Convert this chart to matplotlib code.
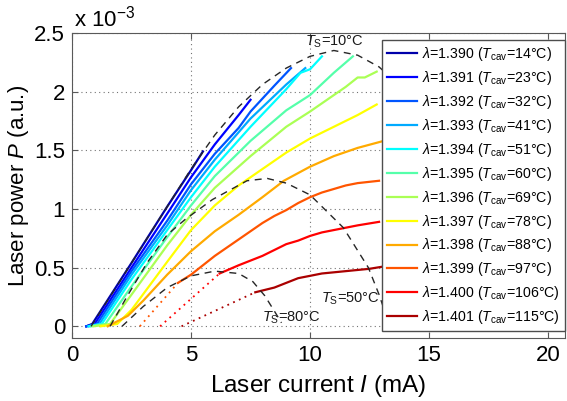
import numpy as np
import matplotlib
matplotlib.use('Agg')
import matplotlib.pyplot as plt

plt.rcParams['font.family'] = ['Liberation Sans', 'DejaVu Sans']
plt.rcParams['mathtext.fontset'] = 'custom'
plt.rcParams['mathtext.rm'] = 'Liberation Sans'
plt.rcParams['mathtext.it'] = 'Liberation Sans:italic'

# wavelengths and cavity temperatures (legend)
WAVELENGTHS = ['1.390', '1.391', '1.392', '1.393', '1.394', '1.395',
               '1.396', '1.397', '1.398', '1.399', '1.400', '1.401']
T_CAV = [14, 23, 32, 41, 51, 60, 69, 78, 88, 97, 106, 115]

# MATLAB jet(12)
COLORS = [(0, 0, .667), (0, 0, 1), (0, .333, 1), (0, .667, 1), (0, 1, 1),
          (.333, 1, .667), (.667, 1, .333), (1, 1, 0), (1, .667, 0),
          (1, .333, 0), (1, 0, 0), (.667, 0, 0)]

# measured L-I curves, current in mA, power in 1e-3 a.u.
CURRENT = [
    [0.6, 0.85, 2.5, 4, 5, 5.5],
    [0.6, 0.95, 2.5, 4, 5, 6, 7, 7.5],
    [0.6, 1.05, 2.5, 4, 5, 6, 7, 7.5, 8.5, 9.2],
    [0.7, 1.15, 2.5, 4, 5, 6, 7.5, 9, 9.8],
    [0.7, 1.25, 2.5, 4, 5, 6, 7.5, 9, 9.6, 10, 10.5],
    [0.8, 1.4, 2.5, 4, 5, 6, 7.5, 9, 10, 11, 11.8],
    [0.9, 1.6, 2.5, 4, 5, 6, 7.5, 9, 10, 11, 11.5, 12, 12.3, 12.8],
    [1.2, 1.9, 2.5, 4, 5, 6, 7, 8, 9, 10, 11, 12, 12.8],
    [1.5, 2.35, 3, 4, 5, 6, 7, 8, 8.9, 10, 11, 12, 13.1],
    [4.45, 5, 5.5, 6, 6.5, 7, 7.5, 8, 8.5, 9, 9.5, 10, 10.5, 11, 11.5, 12, 12.9],
    [6.2, 7, 7.5, 8, 8.5, 9, 9.5, 10, 10.5, 11, 11.5, 12, 12.9],
    [7.7, 8.5, 9, 9.5, 10, 10.5, 11, 11.5, 12, 12.5, 13.1],
]
POWER = [
    [0, 0.02, 0.54, 1.02, 1.33, 1.49],
    [0, 0.02, 0.50, 0.96, 1.27, 1.55, 1.80, 1.93],
    [0, 0.02, 0.47, 0.90, 1.21, 1.47, 1.69, 1.83, 2.05, 2.20],
    [0, 0.02, 0.44, 0.86, 1.16, 1.42, 1.77, 2.06, 2.20],
    [0, 0.02, 0.40, 0.82, 1.10, 1.36, 1.70, 2.02, 2.16, 2.19, 2.30],
    [0, 0.02, 0.34, 0.76, 1.03, 1.28, 1.58, 1.84, 1.97, 2.16, 2.30],
    [0, 0.02, 0.27, 0.69, 0.95, 1.18, 1.45, 1.70, 1.83, 1.97, 2.04, 2.12, 2.12, 2.17],
    [0, 0.02, 0.14, 0.55, 0.82, 1.03, 1.20, 1.34, 1.48, 1.60, 1.70, 1.80, 1.89],
    [0, 0.09, 0.22, 0.44, 0.64, 0.81, 0.95, 1.10, 1.24, 1.36, 1.45, 1.52, 1.58],
    [0.37, 0.44, 0.52, 0.60, 0.67, 0.74, 0.81, 0.88, 0.94, 0.99, 1.05, 1.10, 1.14, 1.17, 1.20, 1.22, 1.24],
    [0.45, 0.52, 0.56, 0.60, 0.65, 0.70, 0.73, 0.77, 0.80, 0.82, 0.84, 0.86, 0.89],
    [0.29, 0.33, 0.37, 0.41, 0.43, 0.45, 0.46, 0.47, 0.48, 0.49, 0.51],
]

# threshold extrapolations (dotted) for the hottest three
DOT_IDX = [9, 10, 11]
DOT_CURRENT = [[2.85, 4.45], [3.7, 6.2], [4.6, 7.7]]
DOT_POWER = [[0, 0.37], [0, 0.45], [0, 0.29]]

# constant substrate temperature envelopes
TS10_I = [0.8, 2, 3, 4, 5, 6, 7, 8, 9, 10, 11, 12, 12.9, 13.6, 14.3]
TS10_P = [0, 0.38, 0.70, 1.02, 1.34, 1.63, 1.87, 2.06, 2.20, 2.30, 2.35, 2.31, 2.21, 2.08, 1.9]
TS50_I = [1.6, 2.3, 3.15, 4, 4.75, 5.9, 7.35, 8.2, 9, 10, 11.4, 12.45, 12.9, 13.1]
TS50_P = [0, 0.25, 0.54, 0.78, 0.91, 1.08, 1.24, 1.26, 1.22, 1.12, 0.84, 0.50, 0.27, 0.15]
TS80_I = [2.1, 3, 4, 5, 6, 7, 7.6, 8.1, 8.5, 8.8]
TS80_P = [0, 0.17, 0.33, 0.43, 0.47, 0.45, 0.38, 0.26, 0.13, 0.03]

fig = plt.figure(figsize=(5.67, 4.01), dpi=100)
ax = fig.add_axes([0.127, 0.157, 0.869, 0.761])

for i in range(len(WAVELENGTHS)):
    label = r'$\lambda$=%s ($T_{\rm cav}$=%d°C)' % (WAVELENGTHS[i], T_CAV[i])
    ax.plot(CURRENT[i], POWER[i], color=COLORS[i], lw=1.6, label=label, zorder=3)

for k, i in enumerate(DOT_IDX):
    ax.plot(DOT_CURRENT[k], DOT_POWER[k], color=COLORS[i], lw=1.3, ls=(0, (1, 2.5)), zorder=2)

dash = dict(color='0.15', lw=1.0, ls=(0, (5, 4)), zorder=4)
ax.plot(TS10_I, TS10_P, **dash)
ax.plot(TS50_I, TS50_P, **dash)
ax.plot(TS80_I, TS80_P, **dash)

ax.text(9.8, 2.39, r'$T_{\rm S}$=10°C', fontsize=10.5, color='0.1', zorder=5)
ax.text(10.45, 0.2, r'$T_{\rm S}$=50°C', fontsize=10.5, color='0.1', zorder=5)
ax.text(8.0, 0.04, r'$T_{\rm S}$=80°C', fontsize=10.5, color='0.1', zorder=5)

ax.set_xlim(0, 20.7)
ax.set_ylim(-0.1, 2.5)
ax.set_xticks([0, 5, 10, 15, 20])
ax.set_yticks([0, 0.5, 1, 1.5, 2, 2.5])
ax.set_yticklabels(['0', '0.5', '1', '1.5', '2', '2.5'])
ax.grid(True, ls=(0, (1, 3)), color='0.45', lw=0.8)
ax.tick_params(direction='in', top=True, right=True, labelsize=16, length=4, color='0.35', pad=5)
for s in ax.spines.values():
    s.set_color('0.35')

ax.set_xlabel(r'Laser current $I$ (mA)', fontsize=17.5, labelpad=5)
ax.set_ylabel(r'Laser power $P$ (a.u.)', fontsize=16, labelpad=2)
fig.text(0.13, 0.935, r'x 10$^{-3}$', fontsize=16)

leg = ax.legend(loc='upper right', bbox_to_anchor=(1.0, 0.977), borderaxespad=0,
                fontsize=10.2, fancybox=False, framealpha=1, edgecolor='0.3',
                handlelength=2.1, handletextpad=0.35, labelspacing=0.42, borderpad=0.35)
leg.get_frame().set_linewidth(1.0)
leg.set_zorder(10)

fig.savefig('out.png', dpi=100)
